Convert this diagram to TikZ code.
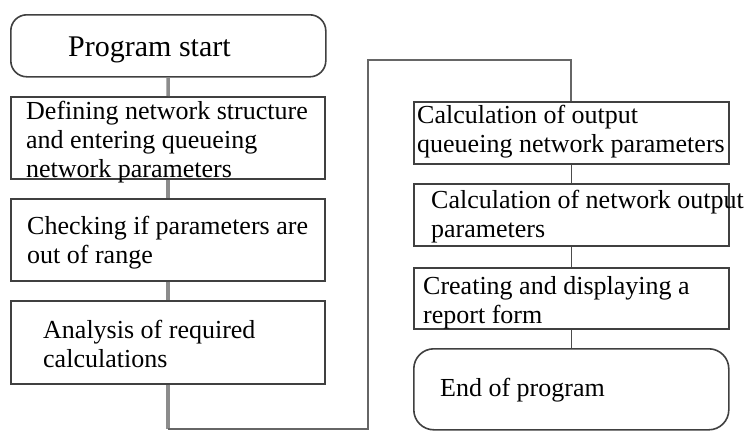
\documentclass[tikz,border=0pt]{standalone}
\usepackage{fontspec}
\setmainfont{Liberation Serif}
\usepackage{tikz}
\tikzset{
  stepbox/.style = {draw=black!75, line width=1.6pt, fill=white, inner sep=0pt},
  termbox/.style = {stepbox, rounded corners=16pt},
  steptext/.style = {align=left, inner sep=0pt, anchor=west, font=\fontsize{26}{29}\selectfont},
  link/.style = {draw=black!45, line width=3.5pt},% liens colonne gauche
  thinlink/.style = {draw=black!70, line width=1.6pt},
  looplink/.style = {draw=black!60, line width=2.2pt}
}
\begin{document}
\begin{tikzpicture}[x=1pt,y=-1pt]
\useasboundingbox (0,0) rectangle (750,431);
% colonne gauche
\node [termbox, minimum width=315pt, minimum height=62pt, anchor=north west] (start) at (10,14) {};
\node [stepbox, minimum width=314pt, minimum height=82pt, anchor=north west] (def) at (10,96) {};
\node [stepbox, minimum width=314pt, minimum height=82pt, anchor=north west] (check) at (10,198) {};
\node [stepbox, minimum width=314pt, minimum height=83pt, anchor=north west] (anal) at (10,300) {};
% colonne droite
\node [stepbox, minimum width=315pt, minimum height=62pt, anchor=north west] (outq) at (413,101) {};
\node [stepbox, minimum width=315pt, minimum height=62pt, anchor=north west] (outn) at (413,183) {};
\node [stepbox, minimum width=315pt, minimum height=61pt, anchor=north west] (report) at (413,267) {};
\node [termbox, minimum width=315pt, minimum height=81pt, anchor=north west, rounded corners=20pt] (stop) at (413,348) {};
% textes
\node [steptext, font=\fontsize{30}{33}\selectfont] (tstart) at (68,50) {Program start};
\node [steptext] (tdef) at (26,142) {Defining network structure\\and entering queueing\\network parameters};
\node [steptext] (tcheck) at (27,243) {Checking if parameters are\\out of range};
\node [steptext] (tanal) at (43,344) {Analysis of required\\calculations};
\node [steptext] (toutq) at (417,132) {Calculation of output\\queueing network parameters};
\node [steptext] (toutn) at (431,217) {Calculation of network output\\parameters};
\node [steptext] (treport) at (423,303) {Creating and displaying a\\report form};
\node [steptext] (tstop) at (440,390) {End of program};
% liens
\draw [link] (start) -- (def);
\draw [link] (def) -- (check);
\draw [link] (check) -- (anal);
\draw [thinlink] (outq) -- (outn);
\draw [thinlink] (outn) -- (report);
\draw [thinlink] (report) -- (stop);
\coordinate (lowturn) at (368,429);
\coordinate (highturn) at (368,60);
\draw [link] (anal.south) -- (anal.south |- lowturn);
\draw [looplink] (anal.south |- lowturn) -- (lowturn) -- (highturn) -| (outq.north);
\end{tikzpicture}
\end{document}
